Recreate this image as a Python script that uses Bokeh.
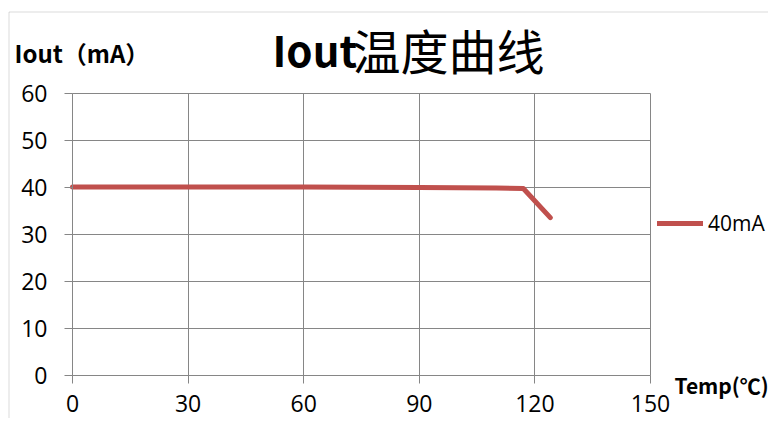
from bokeh.plotting import figure
from bokeh.models import Label, Legend, LegendItem, Range1d, FixedTicker, BoxAnnotation
from bokeh.embed import file_html
from bokeh.resources import INLINE

# ---- data ----
temps = [0, 30, 60, 90, 100, 110, 117, 124]
iout = [40.1, 40.1, 40.1, 40.0, 39.95, 39.9, 39.8, 33.6]
x_ticks = [0, 30, 60, 90, 120, 150]
y_ticks = [0, 10, 20, 30, 40, 50, 60]
series_name = "40mA"
title_latin = "Iout"
title_cjk = "温度曲线"
y_title = "Iout（mA）"
x_title = "Temp(℃)"

GRID = "#868686"
RED = "#C0504D"

W, H = 768, 418
FL, FR, FT, FB = 72, 650, 93, 375          # plot-area edges in canvas pixels
XS = (FR - FL) / 150.0
YS = (FB - FT) / 60.0


def dx(px):
    return (px - FL) / XS


def dy(py):
    return (FB - py) / YS


p = figure(width=W, height=H,
           x_range=Range1d(dx(0), dx(W)),
           y_range=Range1d(dy(H), dy(0)),
           output_backend="svg", toolbar_location=None,
           min_border=0, min_border_left=0, min_border_right=0,
           min_border_top=0, min_border_bottom=0)
p.outline_line_color = None
p.background_fill_color = "white"
p.border_fill_color = "white"

# outer chart border (left/top visible)
p.add_layout(BoxAnnotation(left=dx(8.5), right=dx(W + 50), top=dy(11.5), bottom=dy(H + 50),
                           fill_color=None, line_color=GRID, line_width=1))

for ax in (p.xaxis, p.yaxis):
    ax.axis_line_color = GRID
    ax.major_tick_line_color = GRID
    ax.minor_tick_line_color = None
    ax.major_tick_in = 0
    ax.major_tick_out = 8
    ax.major_label_text_font = "Open Sans"
    ax.major_label_text_font_size = "23px"
    ax.major_label_text_color = "#000000"
p.xaxis.ticker = FixedTicker(ticks=x_ticks)
p.yaxis.ticker = FixedTicker(ticks=y_ticks)
p.xaxis.fixed_location = 0
p.yaxis.fixed_location = 0
p.xaxis.bounds = (0, 150)
p.yaxis.bounds = (0, 60)
p.xaxis.major_label_standoff = 11
p.yaxis.major_label_standoff = 17

p.xgrid.ticker = FixedTicker(ticks=x_ticks)
p.ygrid.ticker = FixedTicker(ticks=y_ticks)
p.xgrid.bounds = (0, 150)
p.ygrid.bounds = (0, 60)
p.xgrid.cross_bounds = (0, 60)
p.ygrid.cross_bounds = (0, 150)
p.xgrid.grid_line_color = GRID
p.ygrid.grid_line_color = GRID

r = p.line(temps, iout, line_color=RED, line_width=5, line_cap="round", line_join="round")

legend = Legend(items=[LegendItem(label=series_name, renderers=[r])],
                location=(657, 181), padding=0, margin=0, border_line_color=None,
                background_fill_alpha=0, glyph_width=46, glyph_height=22,
                label_standoff=5, label_text_font="Open Sans", label_text_font_size="21px",
                label_text_color="#000000",
                label_height=22, label_text_baseline="middle")
p.add_layout(legend)

p.add_layout(Label(x=dx(272), y=69.5, text=title_latin, text_font="Noto Sans CJK SC",
                   text_font_style="bold", text_font_size="42px", text_baseline="middle",
                   text_color="#000000"))
p.add_layout(Label(x=dx(352), y=69.5, text=title_cjk, text_font="Noto Sans CJK SC",
                   text_font_size="48px", text_baseline="middle", text_color="#000000"))
p.add_layout(Label(x=dx(14), y=68.8, text=y_title, text_font="Noto Sans CJK SC",
                   text_font_style="bold", text_font_size="24px", text_baseline="middle",
                   text_color="#000000"))
p.add_layout(Label(x=dx(674), y=-2.1, text=x_title, text_font="Noto Sans CJK SC",
                   text_font_style="bold", text_font_size="21px", text_baseline="middle",
                   text_color="#000000"))

open("out.html", "w").write(file_html(p, INLINE))
